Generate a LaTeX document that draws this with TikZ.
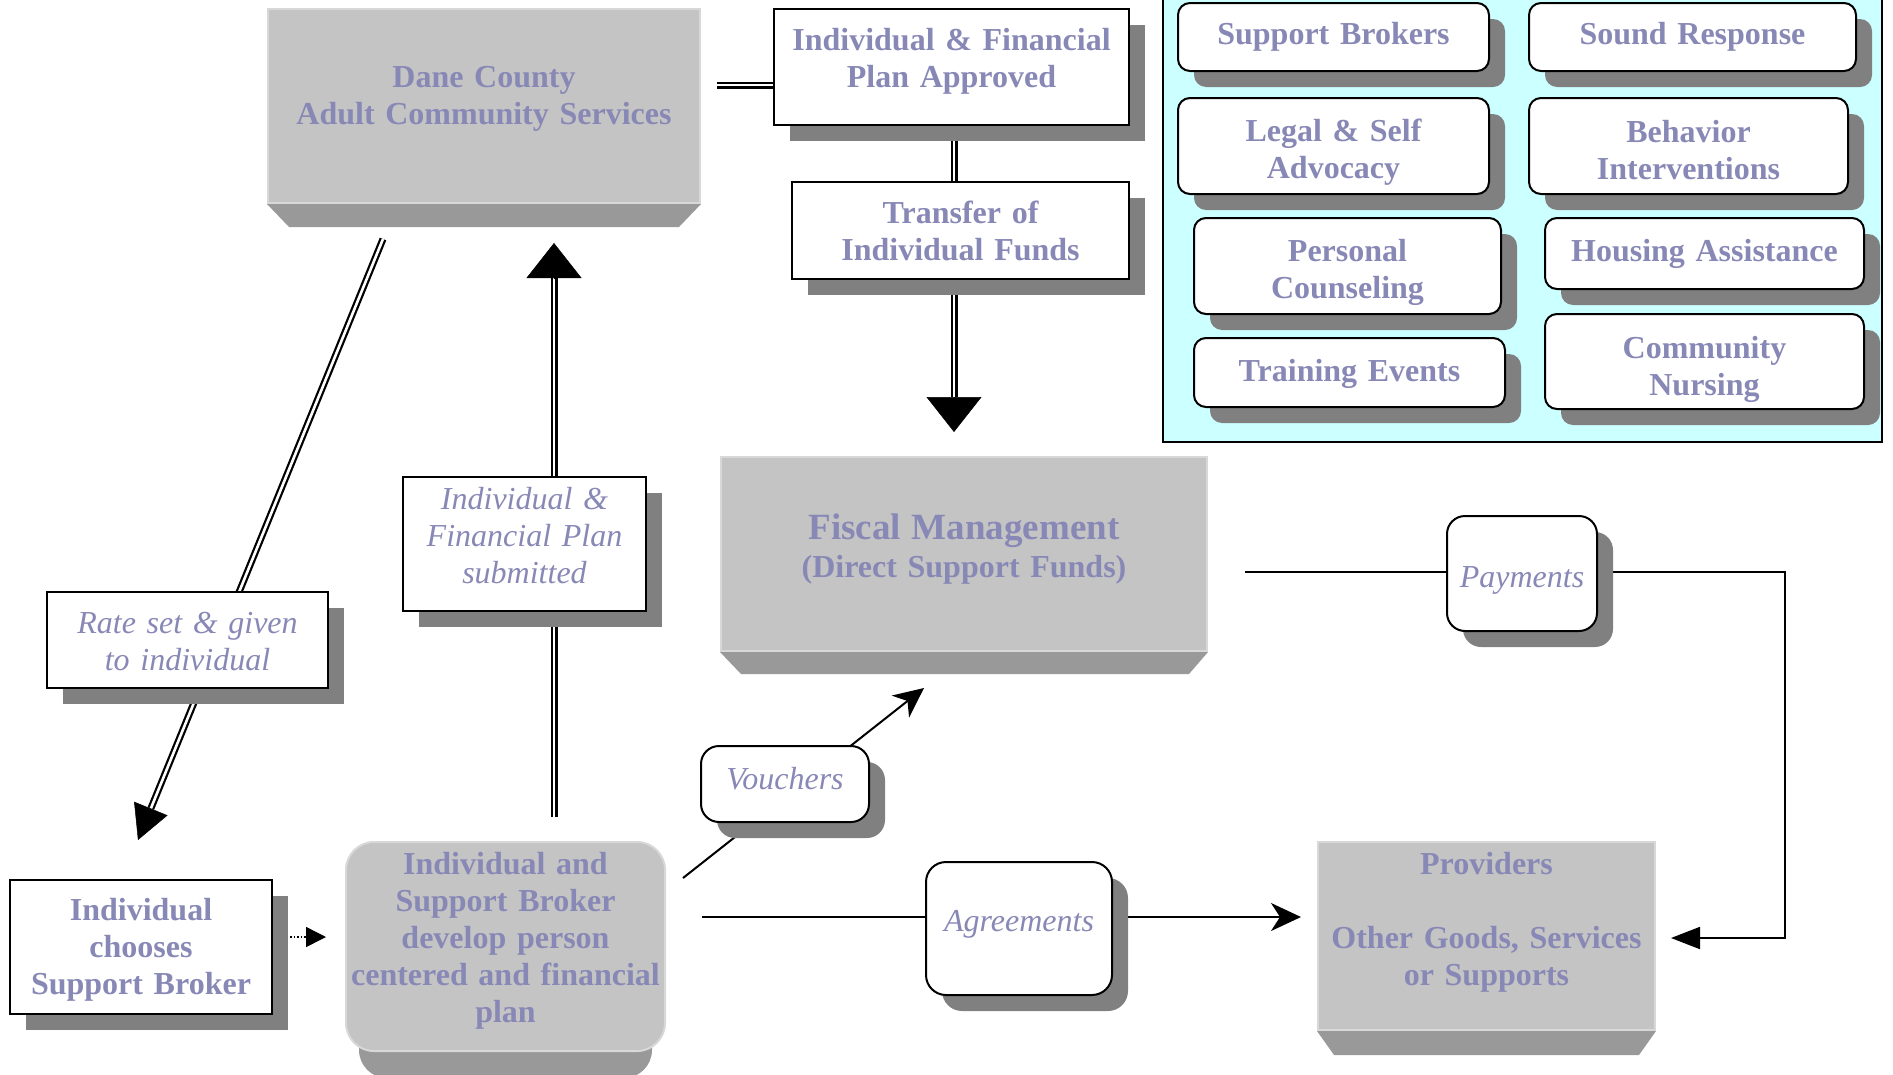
\documentclass[tikz,border=0pt]{standalone}
\usepackage{fontspec}
\setmainfont{Liberation Serif}
\usetikzlibrary{arrows.meta,shadows,calc}

\definecolor{txt}{RGB}{136,136,182}
\definecolor{face}{RGB}{196,196,196}
\definecolor{facelight}{RGB}{216,216,216}
\definecolor{bevel}{RGB}{153,153,153}
\definecolor{shadowc}{RGB}{128,128,128}
\definecolor{cyanbg}{RGB}{204,255,255}

\pgfdeclarelayer{bglayer}
\pgfdeclarelayer{linelayer}
\pgfsetlayers{bglayer,linelayer,main}

\begin{document}
\begin{tikzpicture}[x=1pt,y=-1pt,
  lbl/.style={text=txt, font=\fontsize{32}{37}\selectfont\bfseries, align=center, inner sep=0pt, anchor=north},
  ital/.style={lbl, font=\fontsize{32}{37}\selectfont\itshape},
  whitebox/.style={draw=black, line width=2pt, fill=white,
    drop shadow={shadow xshift=16pt, shadow yshift=-16pt, opacity=1, fill=shadowc}},
  roundbox/.style={whitebox, rounded corners=18pt},
  pbox/.style={whitebox, rounded corners=12pt},
  facebox/.style={fill=face, draw=facelight, line width=2pt},
  panelbox/.style={draw=black, line width=2pt, fill=cyanbg, inner sep=0pt, anchor=north west},
  dbl/.style={draw=black, double=white, double distance=2.6pt, line width=2.2pt},
  conn/.style={draw=black, line width=2pt},
  vtip/.style={line width=0.5pt, -{Triangle[length=35pt,width=55pt]}},
  dtip/.style={line width=0.5pt, -{Triangle[length=34pt,width=36pt]}},
  stl/.style={-{Stealth[length=30pt,width=28pt,inset=9pt]}},
  ptip/.style={-{Triangle[length=29pt,width=22pt]}},
  dotarr/.style={draw=black, line width=1.5pt, dotted, -{Triangle[length=20pt,width=20pt]}}
]
\useasboundingbox (0,0) rectangle (1893,1074);

% ---- services panel ----
\node[panelbox, minimum width=719pt, minimum height=445pt] (svc) at (1162,-4) {};
\node[lbl,pbox,text width=311pt,text height=41pt,text depth=27pt] (sb) at (1333.5,2) {Support Brokers};
\node[lbl,pbox,text width=327pt,text height=41pt,text depth=27pt] (sr) at (1692.5,2) {Sound Response};
\node[lbl,pbox,text width=311pt,text height=43pt,text depth=53pt] (lsa) at (1333.5,97) {Legal \& Self\\Advocacy};
\node[lbl,pbox,text width=319pt,text height=44pt,text depth=52pt] (bi) at (1688.5,97) {Behavior\\Interventions};
\node[lbl,pbox,text width=307pt,text height=43pt,text depth=53pt] (pc) at (1347.5,217) {Personal\\Counseling};
\node[lbl,pbox,text width=319pt,text height=43pt,text depth=28pt] (ha) at (1704.5,217) {Housing Assistance};
\node[lbl,pbox,text width=311pt,text height=43pt,text depth=26pt] (te) at (1349.5,337) {Training Events};
\node[lbl,pbox,text width=319pt,text height=44pt,text depth=51pt] (cn) at (1704.5,313) {Community\\Nursing};

% ---- main grey blocks ----
\node[lbl,facebox,text width=432pt,text height=78pt,text depth=116pt] (dane) at (484,8) {Dane County\\Adult Community Services};
\fill[bevel] (dane.south west) -- (dane.south east) -- ++(-22,23) -- ($(dane.south west)+(22,23)$) -- cycle;

\node[lbl,facebox,text width=486pt,text height=82pt,text depth=112pt,
      font=\fontsize{32}{38}\selectfont\bfseries] (fm) at (964,456)
      {{\fontsize{37}{38}\selectfont Fiscal Management}\\(Direct Support Funds)};
\fill[bevel] (fm.south west) -- (fm.south east) -- ++(-19,22) -- ($(fm.south west)+(21,22)$) -- cycle;

\node[lbl,facebox,text width=337pt,text height=32pt,text depth=156pt] (prov) at (1486.5,841)
      {Providers\\[37pt]Other Goods, Services\\or Supports};
\fill[bevel] (prov.south west) -- (prov.south east) -- ++(-17,24) -- ($(prov.south west)+(17,24)$) -- cycle;

\node[lbl,facebox,rounded corners=28pt,text width=319pt,text height=32pt,text depth=177pt] (isb) at (505.5,841)
      {Individual and\\Support Broker\\develop person\\centered and financial\\plan};
\begin{pgfonlayer}{bglayer}
\fill[bevel, rounded corners=28pt] ($(isb.south west)+(14,-80)$) rectangle ($(isb.south east)+(-14,26)$);
\end{pgfonlayer}

% ---- white boxes ----
\node[lbl,whitebox,text width=355pt,text height=41pt,text depth=75pt] (app) at (951.5,8) {Individual \& Financial\\Plan Approved};
\node[lbl,whitebox,text width=337pt,text height=41pt,text depth=56pt] (trf) at (960.5,181) {Transfer of\\Individual Funds};
\node[ital,whitebox,text width=243pt,text height=32pt,text depth=102pt] (sub) at (524.5,476) {Individual \&\\Financial Plan\\submitted};
\node[ital,whitebox,text width=281pt,text height=41pt,text depth=55pt] (rate) at (187.5,591) {Rate set \& given\\to individual};
\node[lbl,whitebox,text width=262pt,text height=40pt,text depth=94pt] (chs) at (141,879) {Individual\\chooses\\Support Broker};
\node[ital,roundbox,text width=168pt,text height=43pt,text depth=33pt] (vou) at (785,745) {Vouchers};
\node[ital,roundbox,rounded corners=20pt,text width=186pt,text height=69pt,text depth=64pt] (agr) at (1019,861) {Agreements};
\node[ital,roundbox,text width=150pt,text height=71pt,text depth=44pt] (pay) at (1522,515) {Payments};

% ---- connector coordinates ----
\coordinate (dcy) at (717,85);
\coordinate (fmx) at (954,0);
\coordinate (upx) at (554,0);
\coordinate (rs1) at (383,239);
\coordinate (rstip) at (138,840);
\coordinate (dty) at (0,937);
\coordinate (vst) at (683,878);
\coordinate (vtip) at (924,688);
\coordinate (agy) at (0,917);
\coordinate (py) at (0,572);
\coordinate (pr) at (1785,0);
\coordinate (pin) at (0,938);

\begin{pgfonlayer}{linelayer}
\draw[dbl] (dcy) -- (dcy -| app.west);
\draw[dbl] (app.south -| fmx) -- (trf.north -| fmx);
\draw[dbl, shorten >=59pt] (trf.south -| fmx) -- (fm.north -| fmx);
\draw[vtip, shorten >=24pt] ($(fm.north -| fmx)+(0,-59)$) -- (fm.north -| fmx);
\draw[dbl, shorten <=24pt, shorten >=73pt] (isb.north -| upx) -- (dane.south -| upx);
\draw[vtip, shorten >=39pt] ($(dane.south -| upx)+(0,74)$) -- (dane.south -| upx);
\draw[dbl] (rs1) -- ($(rstip)!34pt!(rs1)$);
\draw[dtip] ($(rstip)!34pt!(rs1)$) -- (rstip);
\draw[dotarr, shorten <=17pt, shorten >=19pt] (chs.east |- dty) -- (isb.west |- dty);
\draw[conn, stl] (vst) -- (vtip);
\draw[conn, stl, shorten <=36pt, shorten >=16pt] (isb.east |- agy) -- (prov.west |- agy);
\draw[conn, ptip, shorten <=37pt, shorten >=15pt] (fm.east |- py) -- (pr |- py) -- (pr |- pin) -- (prov.east |- pin);
\end{pgfonlayer}
\end{tikzpicture}
\end{document}
